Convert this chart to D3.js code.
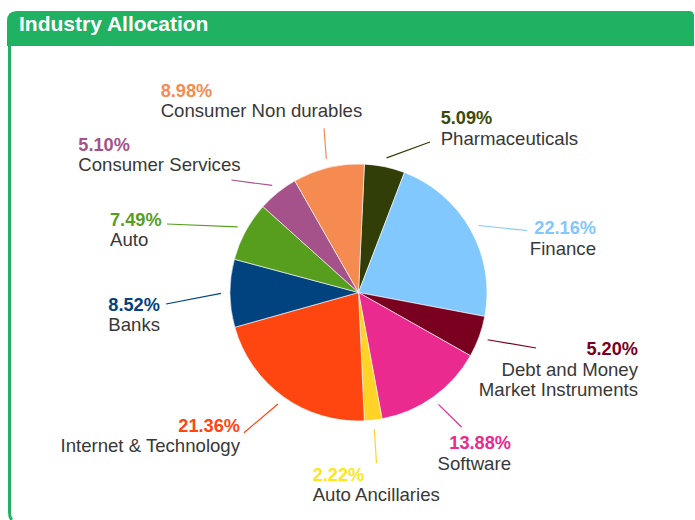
<!DOCTYPE html>
<html>
<head>
<meta charset="utf-8">
<script src="https://cdn.jsdelivr.net/npm/d3@7"></script>
<style>
  body { margin: 0; background: #fff; }
  svg { display: block; font-family: "Liberation Sans", Arial, sans-serif; }
</style>
</head>
<body>
<div id="chart"></div>
<script>
// data
var sectors = ["Pharmaceuticals", "Finance", "Debt and Money Market Instruments", "Software",
  "Auto Ancillaries", "Internet & Technology", "Banks", "Auto", "Consumer Services", "Consumer Non durables"];
var shares = [5.09, 22.16, 5.20, 13.88, 2.22, 21.36, 8.52, 7.49, 5.10, 8.98];
var nameLines = [["Pharmaceuticals"], ["Finance"], ["Debt and Money", "Market Instruments"], ["Software"],
  ["Auto Ancillaries"], ["Internet & Technology"], ["Banks"], ["Auto"], ["Consumer Services"], ["Consumer Non durables"]];
var sliceColors = ["#323e08", "#80c8fd", "#7a0020", "#ea2a8f", "#ffd426",
  "#ff4510", "#00437f", "#579e1f", "#a6528a", "#f58b50"];
var pctColors = ["#3a4a0b", "#80c8fd", "#7a0020", "#ea2a8f", "#ffe619",
  "#ff4510", "#00437f", "#579e1f", "#a6528a", "#f58b50"];

var svgWidth = 695;
var svgHeight = 520;
var green = "#20b262";

// hand placed label spots (text x, baseline of the % line, anchor, leader tip)
var labelSpots = [
  { x: 440.7, y: 124, anchor: "start", tip: [430, 142] },
  { x: 596, y: 234.3, anchor: "end", tip: [527, 230.5] },
  { x: 638, y: 355, anchor: "end", tip: [536, 348] },
  { x: 511, y: 449.3, anchor: "end", tip: [461.5, 427] },
  { x: 312.7, y: 480.7, anchor: "start", tip: [376.5, 463] },
  { x: 240, y: 431.7, anchor: "end", tip: [244, 432.7] },
  { x: 108.3, y: 310.7, anchor: "start", tip: [166, 304] },
  { x: 110, y: 225.7, anchor: "start", tip: [167, 224] },
  { x: 78.3, y: 150.7, anchor: "start", tip: [231.5, 180] },
  { x: 160.7, y: 96.7, anchor: "start", tip: [324, 128.3] }
];

var svg = d3.select("#chart")
  .append("svg")
  .attr("width", svgWidth)
  .attr("height", svgHeight);

// panel: left border + header bar
svg.append("path")
  .attr("d", "M9.5,40 L9.5,512 Q9.5,518 12,520")
  .attr("fill", "none")
  .attr("stroke", green)
  .attr("stroke-width", 3);

svg.append("path")
  .attr("d", "M7,46 L7,21 Q7,11 17,11 L689,11 Q694,11 694,16 L694,46 Z")
  .attr("fill", green);

svg.append("text")
  .attr("x", 19)
  .attr("y", 30.7)
  .attr("fill", "#fff")
  .attr("font-size", 21)
  .attr("font-weight", "bold")
  .text("Industry Allocation");

// pie
var cx = 358.5, cy = 292.5, radius = 128.5;
var startAngle = 0.046;

var rows = sectors.map(function(s, i) {
  return { name: s, value: shares[i], color: sliceColors[i], pctColor: pctColors[i], lines: nameLines[i], spot: labelSpots[i] };
});

var pie = d3.pie()
  .sort(null)
  .value(d => d.value)
  .startAngle(startAngle)
  .endAngle(startAngle + 2 * Math.PI);

var arc = d3.arc().innerRadius(0).outerRadius(radius);
var tickArc = d3.arc().innerRadius(radius + 9).outerRadius(radius + 9);

var pieGroup = svg.append("g")
  .attr("transform", `translate(${cx}, ${cy})`);

var arcs = pie(rows);

pieGroup.selectAll("path.slice")
  .data(arcs)
  .enter()
  .append("path")
  .attr("class", "slice")
  .attr("d", arc)
  .attr("fill", d => d.data.color)
  .attr("stroke", "#fff")
  .attr("stroke-width", 0.6);

// leader lines
svg.selectAll("path.leader")
  .data(arcs)
  .enter()
  .append("path")
  .attr("class", "leader")
  .attr("d", function(d) {
    var p = tickArc.centroid(d);
    return "M" + (cx + p[0]) + "," + (cy + p[1]) + " L" + d.data.spot.tip[0] + "," + d.data.spot.tip[1];
  })
  .attr("fill", "none")
  .attr("stroke", d => d.data.color)
  .attr("stroke-width", 1.2);

// labels
var labels = svg.selectAll("g.label")
  .data(arcs)
  .enter()
  .append("g")
  .attr("class", "label");

labels.append("text")
  .attr("x", d => d.data.spot.x)
  .attr("y", d => d.data.spot.y)
  .attr("text-anchor", d => d.data.spot.anchor)
  .attr("font-size", 18.2)
  .attr("font-weight", "bold")
  .attr("fill", d => d.data.pctColor)
  .text(d => d.data.value.toFixed(2) + "%");

labels.each(function(d) {
  var g = d3.select(this);
  d.data.lines.forEach(function(line, j) {
    g.append("text")
      .attr("x", d.data.spot.x)
      .attr("y", d.data.spot.y + 20.5 * (j + 1))
      .attr("text-anchor", d.data.spot.anchor)
      .attr("font-size", 18.6)
      .attr("fill", "#383838")
      .text(line);
  });
});
</script>
</body>
</html>
